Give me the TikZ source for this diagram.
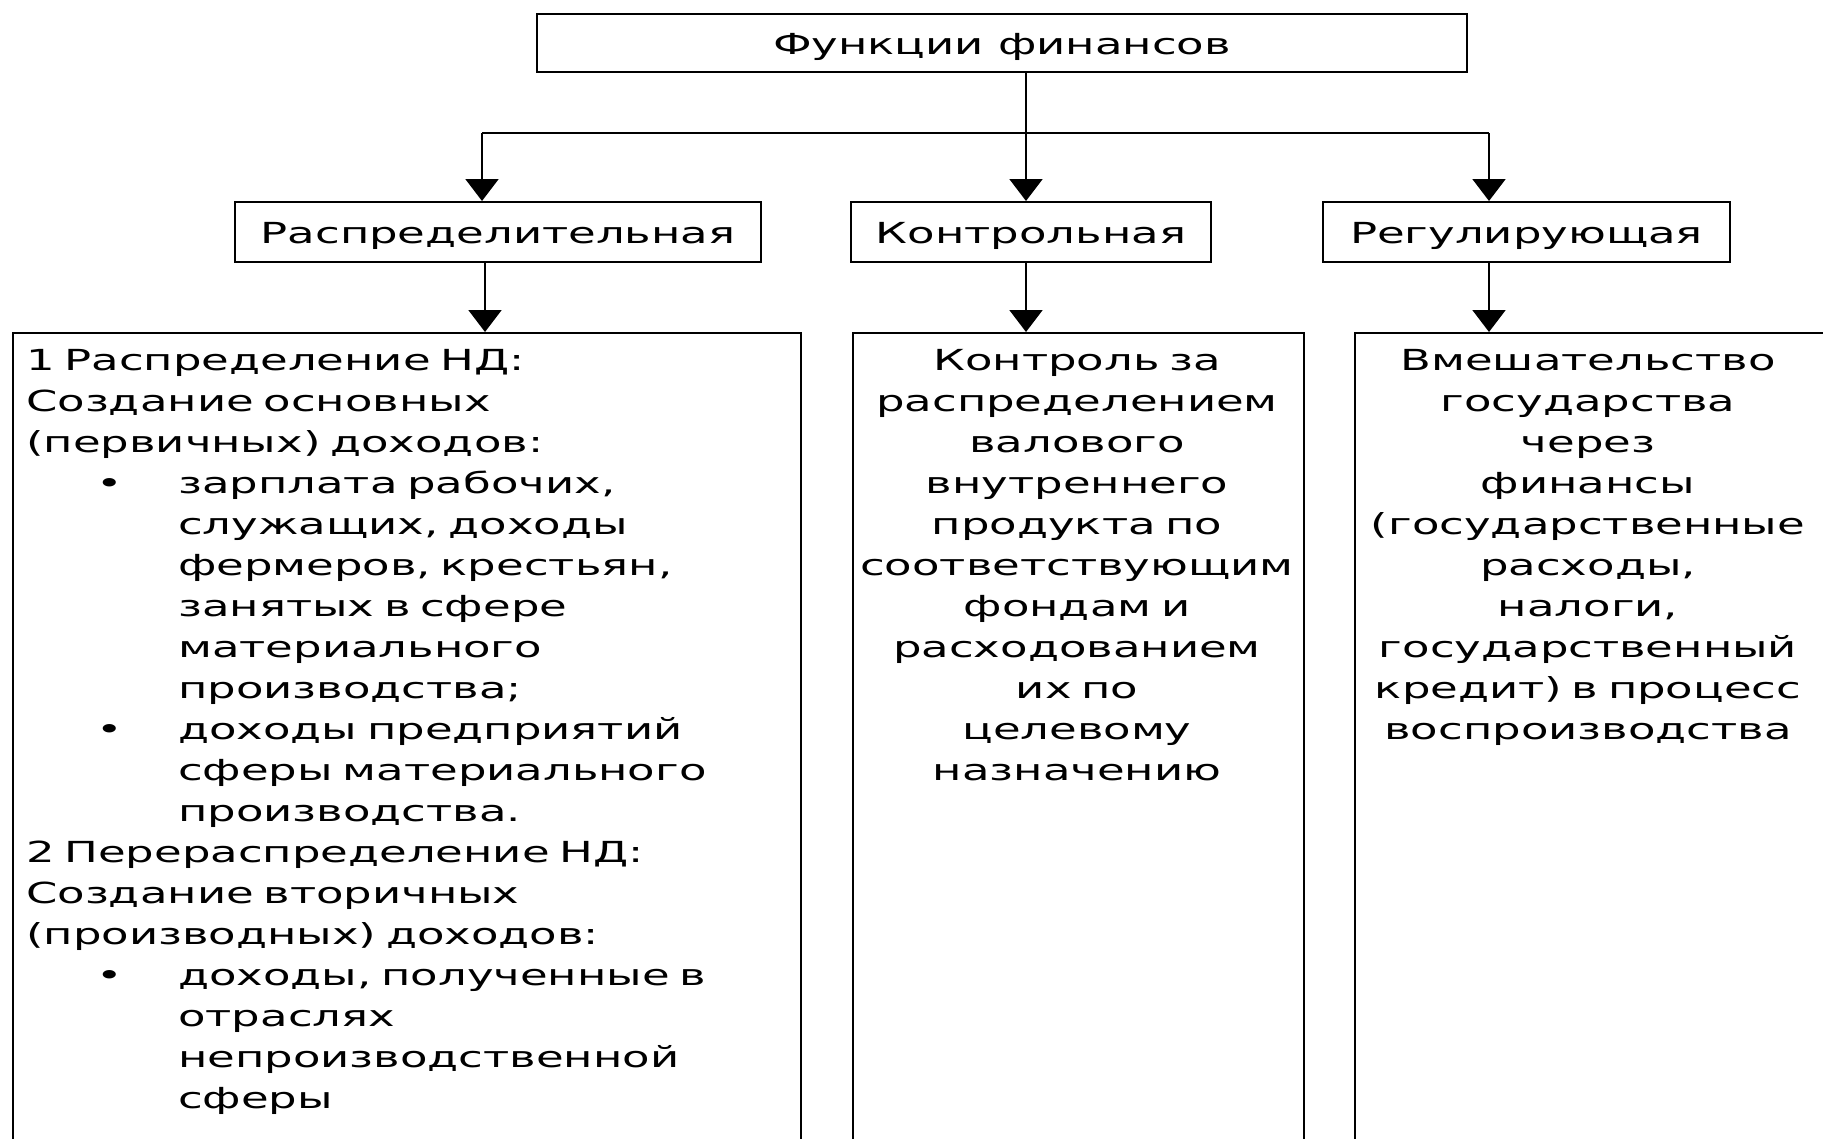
\documentclass[tikz,border=0pt]{standalone}
\usepackage{fontspec}
\newfontfamily\widesans[FakeStretch=1.55]{DejaVu Sans}
\usetikzlibrary{arrows.meta}

\newcommand\bul{\makebox[152pt][l]{\hspace*{70pt}•}}
\newcommand\ind{\hspace*{152pt}}

\tikzset{
  box/.style={draw, line width=2pt, inner sep=0pt, text height=22pt, text depth=0pt, font=\widesans\fontsize{29}{41}\selectfont},
  arr/.style={line width=2pt, -{Triangle[width=33pt,length=22pt]}},
  txt/.style={font=\widesans\fontsize{29}{41}\selectfont, inner sep=0pt, anchor=north}
}

\begin{document}
\begin{tikzpicture}[x=1pt,y=-1pt]
\useasboundingbox (0,0) rectangle (1823,1138);
\clip (0,0) rectangle (1823,1138);

% top and middle row
\node[box, minimum width=930pt, minimum height=58pt] (funcs) at (1002,43) {Функции финансов};
\node[box, minimum width=526pt, minimum height=60pt] (dist) at (498,232) {Распределительная};
\node[box, minimum width=360pt, minimum height=60pt] (ctrl) at (1031,232) {Контрольная};
\node[box, minimum width=407pt, minimum height=60pt] (reg) at (1526.5,232) {Регулирующая};

% bottom boxes run past the lower edge
\node[box, minimum width=788pt, minimum height=900pt, anchor=north west] (distbox) at (12,332) {};
\node[box, minimum width=451pt, minimum height=900pt, anchor=north west] (ctrlbox) at (852,332) {};
\node[box, minimum width=470pt, minimum height=900pt, anchor=north west] (regbox) at (1354,332) {};

\node[txt, anchor=north west, text width=770pt, align=left] (disttext) at (26,349) {1 Распределение НД:\\
Создание основных\\
(первичных) доходов:\\
\bul зарплата рабочих,\\
\ind служащих, доходы\\
\ind фермеров, крестьян,\\
\ind занятых в сфере\\
\ind материального\\
\ind производства;\\
\bul доходы предприятий\\
\ind сферы материального\\
\ind производства.\\
2 Перераспределение НД:\\
Создание вторичных\\
(производных) доходов:\\
\bul доходы, полученные в\\
\ind отраслях\\
\ind непроизводственной\\
\ind сферы};
\node[txt, text width=451pt, align=center] (ctrltext) at (1077,349) {Контроль за\\
распределением\\
валового\\
внутреннего\\
продукта по\\
соответствующим\\
фондам и\\
расходованием\\
их по\\
целевому\\
назначению};
\node[txt, text width=470pt, align=center] (regtext) at (1588,349) {Вмешательство\\
государства\\
через\\
финансы\\
(государственные\\
расходы,\\
налоги,\\
государственный\\
кредит) в процесс\\
воспроизводства};

% connectors
\coordinate (barL) at (482,133);
\coordinate (barM) at (1026,133);
\coordinate (barR) at (1489,133);
\draw[line width=2pt] (barL) -- (barR);
\draw[arr] (barM |- funcs.south) -- (barM |- ctrl.north);
\draw[arr] (barL) -- (barL |- dist.north);
\draw[arr] (barR) -- (barR |- reg.north);
\draw[arr] ([xshift=-13pt]dist.south) -- ([xshift=-13pt]dist.south |- distbox.north);
\draw[arr] (barM |- ctrl.south) -- (barM |- ctrlbox.north);
\draw[arr] (barR |- reg.south) -- (barR |- regbox.north);
\end{tikzpicture}
\end{document}
